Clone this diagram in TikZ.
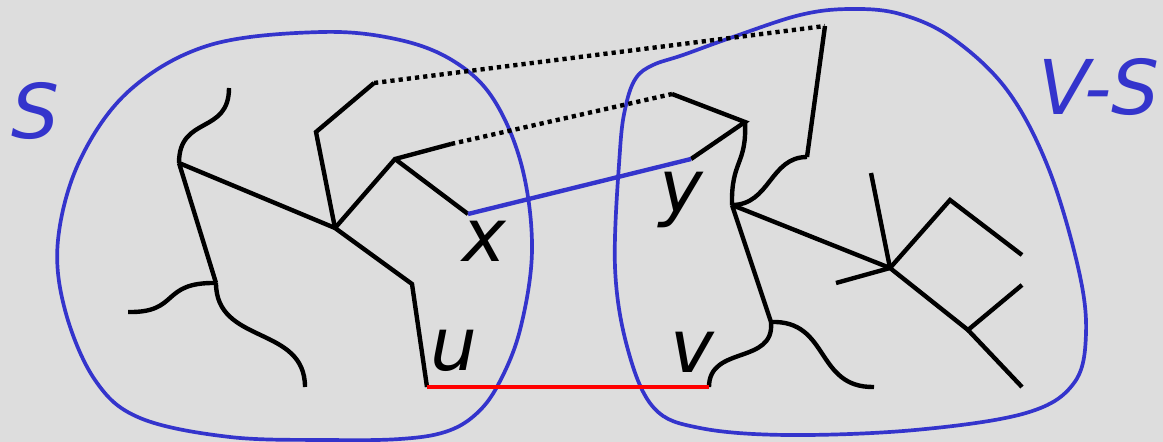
\documentclass[tikz,border=0pt]{standalone}
\usepackage{fontspec}
\newfontfamily\labfont{DejaVu Sans}
\definecolor{bg}{HTML}{DDDDDD}
\definecolor{setblue}{RGB}{52,52,204}
\definecolor{cutred}{RGB}{255,0,0}
\tikzset{
  blob/.style={draw=setblue, line width=2.1pt},
  edge/.style={draw=black, line width=2.5pt},
  nontree/.style={draw=black, line width=2.5pt, dash pattern=on 2.4pt off 2.3pt},
  xyedge/.style={draw=setblue, line width=2.5pt},
  uvedge/.style={draw=cutred, line width=2.5pt},
  vlab/.style={font=\labfont\itshape\fontsize{42}{50}\selectfont, inner sep=0pt, anchor=base},
  setlab/.style={font=\labfont\itshape\fontsize{43}{50}\selectfont, text=setblue, inner sep=0pt, anchor=base}
}
\begin{document}
\begin{tikzpicture}[x=0.02cm,y=-0.02cm]
\fill[bg] (0,0) rectangle (1163,442);
\useasboundingbox (0,0) rectangle (1163,442);

% sets
\draw[blob] plot[smooth cycle, tension=0.6] coordinates {
  (322,32) (210,45) (130,90) (80,160) (58,240) (65,310) (95,380) (140,418)
  (230,437) (330,440) (400,439) (445,432) (475,415) (498,385) (520,330)
  (532,250) (522,167) (494,100) (455,62) (400,40)};
\draw[blob] plot[smooth cycle, tension=0.6] coordinates {
  (850,9) (800,15) (733,37) (683,55) (653,65) (636,78) (626,105) (620,150)
  (615,267) (628,350) (654,408) (700,428) (788,435) (915,430) (1026,413)
  (1074,383) (1086,333) (1078,267) (1048,167) (1007,90) (952,38) (900,14)};

% labels of sets
\node[setlab] (S) at (35,139) {S};
\node[setlab] (VS) at (1099,115) {V-S};

% vertices (left tree)
\coordinate (a1) at (229,88);
\coordinate (A) at (179,163);
\coordinate (B) at (335,228);
\coordinate (C) at (216,283);
\coordinate (c1) at (128,312);
\coordinate (c2) at (305,387);
\coordinate (b1) at (316,132);
\coordinate (b2) at (374,83);
\coordinate (D) at (395,159);
\coordinate (d1) at (451,144);
\coordinate (x) at (468,214);
\coordinate (E) at (412,284);
\coordinate (u) at (427,387);

% vertices (right tree)
\coordinate (F) at (825,26);
\coordinate (f1) at (807,157);
\coordinate (G) at (732,205);
\coordinate (H) at (672,94);
\coordinate (I) at (745,122);
\coordinate (y) at (691,159);
\coordinate (J) at (890,268);
\coordinate (K) at (771,322);
\coordinate (v) at (709,387);
\coordinate (k1) at (874,387);
\coordinate (j1) at (871,173);
\coordinate (j2) at (836,283);
\coordinate (L) at (950,200);
\coordinate (l1) at (1022,255);
\coordinate (M) at (968,330);
\coordinate (m1) at (1022,285);
\coordinate (m2) at (1022,387);

% left tree
\draw[edge] (a1) .. controls (229,135) and (179,115) .. (A);
\draw[edge] (A) -- (B);
\draw[edge] (A) -- (C);
\draw[edge] (C) .. controls (160,282) and (180,313) .. (c1);
\draw[edge] (C) .. controls (216,345) and (305,325) .. (c2);
\draw[edge] (B) -- (b1) -- (b2);
\draw[edge] (B) -- (D) -- (d1);
\draw[edge] (D) -- (x);
\draw[edge] (B) -- (E) -- (u);

% right tree
\draw[edge] (F) -- (f1);
\draw[edge] (f1) .. controls (770,157) and (770,205) .. (G);
\draw[edge] (H) -- (I) -- (y);
\draw[edge] (I) .. controls (747,165) and (731,160) .. (G);
\draw[edge] (G) -- (J);
\draw[edge] (G) -- (K);
\draw[edge] (K) .. controls (775,365) and (709,345) .. (v);
\draw[edge] (K) .. controls (830,320) and (815,388) .. (k1);
\draw[edge] (J) -- (j1);
\draw[edge] (J) -- (j2);
\draw[edge] (J) -- (L) -- (l1);
\draw[edge] (J) -- (M) -- (m1);
\draw[edge] (M) -- (m2);

% non-tree edges
\draw[nontree] (b2) -- (F);
\draw[nontree] (d1) -- (H);
\draw[xyedge] (x) -- (y);
\draw[uvedge] (u) -- (v);

% vertex labels
\node[vlab] (xl) at (484,262) {x};
\node[vlab] (yl) at (681,213) {y};
\node[vlab] (ul) at (454,370) {u};
\node[vlab] (vl) at (692,372) {v};
\end{tikzpicture}
\end{document}
